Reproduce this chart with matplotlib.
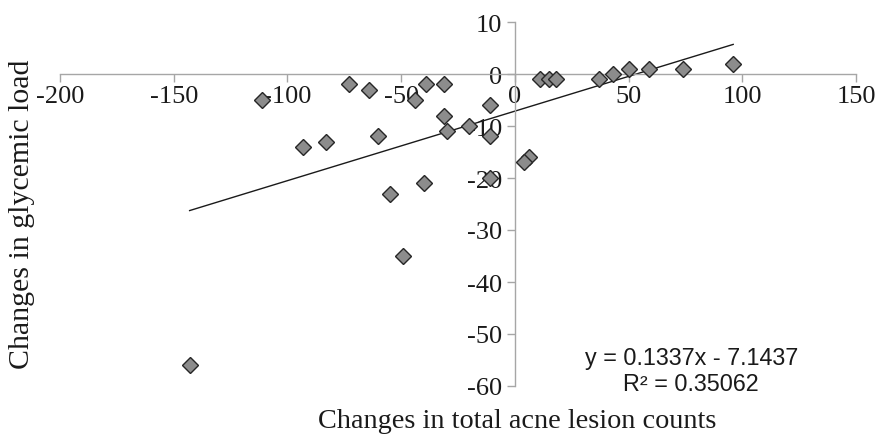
import numpy as np
import matplotlib
matplotlib.use("Agg")
import matplotlib.pyplot as plt

# changes in total acne lesion counts (x) vs changes in glycemic load (y)
lesion_change = [-111, -73, -64, -93, -83, -60, -55, -40, -44, -39, -31, -31, -30,
                 -20, -11, -11, -11, 6, 4, -49, -143,
                 11, 15, 18, 37, 43, 50, 59, 74, 96]
gl_change = [-5, -2, -3, -14, -13, -12, -23, -21, -5, -2, -2, -8, -11,
             -10, -6, -12, -20, -16, -17, -35, -56,
             -1, -1, -1, -1, 0, 1, 1, 1, 2]

slope = 0.1337
intercept = -7.1437
r_squared = 0.35062

x_ticks = [-200, -150, -100, -50, 0, 50, 100, 150]
y_ticks = [-60, -50, -40, -30, -20, -10, 0, 10]

serif = ["Liberation Serif", "DejaVu Serif"]
sans = ["Liberation Sans", "DejaVu Sans"]
axis_gray = "#a6a6a6"
ink = "#1a1a1a"


def main():
    fig = plt.figure(figsize=(8.84, 4.35), dpi=100)
    ax = fig.add_axes([60 / 884, 1 - 387 / 435, (856 - 60) / 884, (387 - 23) / 435])

    ax.set_xlim(-200, 150)
    ax.set_ylim(-60, 10)

    # spines through the origin, like the Excel chart
    for side in ["top", "right"]:
        ax.spines[side].set_visible(False)
    ax.spines["left"].set_position(("data", 0))
    ax.spines["bottom"].set_position(("data", 0))
    for side in ["left", "bottom"]:
        ax.spines[side].set_color(axis_gray)
        ax.spines[side].set_linewidth(1.0)

    ax.set_xticks(x_ticks)
    ax.set_yticks(y_ticks)
    ax.tick_params(direction="out", length=6, width=1.0, color=axis_gray,
                   labelsize=19, labelcolor=ink)
    ax.tick_params(axis="x", pad=2)
    ax.tick_params(axis="y", pad=3)
    ax.set_xticklabels([str(t) for t in x_ticks])
    ax.set_yticklabels([str(t) for t in y_ticks])
    for lab in ax.get_xticklabels() + ax.get_yticklabels():
        lab.set_family(serif)

    # trend line over the data range
    xs = np.array([min(lesion_change), max(lesion_change)])
    ax.plot(xs, slope * xs + intercept, color=ink, lw=1.0, zorder=2)

    ax.plot(lesion_change, gl_change, linestyle="none", marker="D", markersize=8.2,
            markerfacecolor="#8c8c8c", markeredgecolor="#262626", markeredgewidth=1.0,
            zorder=3, clip_on=False)

    # trendline label, two lines centred on each other
    fig.text(0.782, 1 - 365 / 435, f"y = {slope}x - {-intercept}", ha="center",
             va="baseline", fontsize=16.8, family=sans, color=ink)
    fig.text(0.782, 1 - 391 / 435, f"R\u00b2 = {r_squared}", ha="center",
             va="baseline", fontsize=16.8, family=sans, color=ink)

    fig.text(0.585, 1 - 428 / 435, "Changes in total acne lesion counts", ha="center",
             va="baseline", fontsize=20.3, family=serif, color=ink)
    fig.text(0.025, 1 - 214 / 435, "Changes in glycemic load", ha="center", va="center",
             rotation=90, fontsize=21.5, family=serif, color=ink)

    fig.savefig("out.png", dpi=100)


if __name__ == "__main__":
    main()
